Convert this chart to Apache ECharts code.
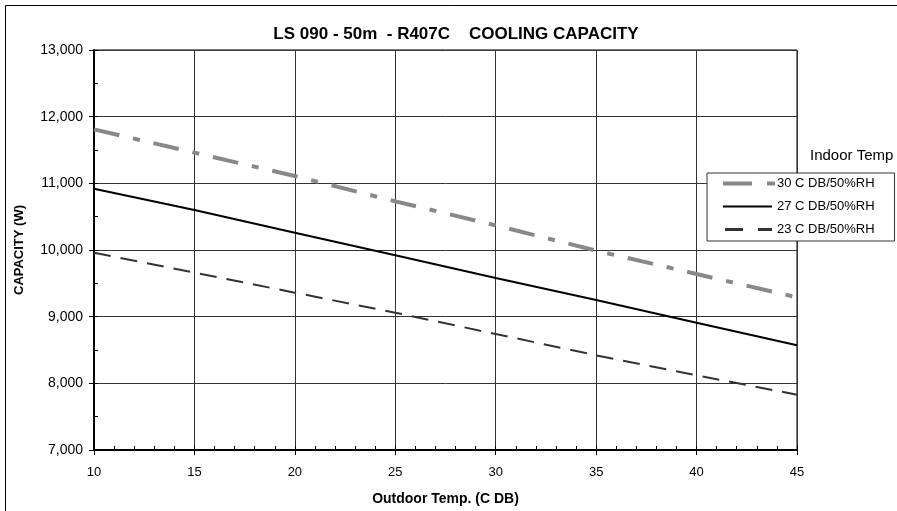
<!doctype html>
<html style="width: 100%; height: 100%"><head><meta charset="utf-8"></head>
<body style="width: 100%; height: 100%; margin: 0; background: #fff">
<div id="container" style="width: 897px; height: 511px"></div>
<script type="text/javascript" src="https://cdn.jsdelivr.net/npm/echarts@6/dist/echarts.min.js"></script>
<script type="text/javascript">
// outdoor temp (C DB)
var temps = [10, 15, 20, 25, 30, 35, 40, 45];
// capacity (W) per indoor condition
var cap30 = [11810, 11460, 11110, 10730, 10370, 9990, 9640, 9290];
var cap27 = [10920, 10600, 10260, 9920, 9580, 9250, 8910, 8570];
var cap23 = [9960, 9660, 9360, 9060, 8740, 8420, 8120, 7830];
var yTicks = [7000, 8000, 9000, 10000, 11000, 12000, 13000];

function pairs(vals) {
    return temps.map(function (t, i) { return [t, vals[i]]; });
}

var dom = document.getElementById("container");
var myChart = echarts.init(dom);
var font = 'Liberation Sans, Arial, sans-serif';

// legend icons drawn as dash patterns (box 0..52 x 0..8)
var icon30 = 'path://M0 0M52 8M0 2H29V6H0Z M44 2H52V6H44Z';
var icon27 = 'path://M0 0M52 8M0 3H49V5H0Z';
var icon23 = 'path://M0 0M52 8M2 2.5H20V5.5H2Z M35 2.5H49V5.5H35Z';

var option = {
    animation: false,
    textStyle: {fontFamily: font, color: '#000'},
    title: {
        text: 'LS 090 - 50m  - R407C    COOLING CAPACITY',
        left: 451, top: 21, textAlign: 'center',
        textStyle: {fontSize: 17, fontWeight: 'bold', color: '#000', fontFamily: font}
    },
    graphic: [
        {type: 'rect', shape: {x: 5.5, y: 5.5, width: 900, height: 510},
         style: {fill: 'none', stroke: '#000', lineWidth: 1}, z: -1},
        {type: 'text', left: 810, top: 148,
         style: {text: 'Indoor Temp', fontSize: 15, fontFamily: font, fill: '#000'}}
    ],
    legend: {
        orient: 'vertical',
        left: 707, top: 173,
        padding: [4, 20, 5, 16],
        itemGap: 10,
        itemWidth: 52, itemHeight: 8,
        backgroundColor: '#fff',
        borderColor: '#333', borderWidth: 1, borderRadius: 0,
        textStyle: {fontSize: 13, fontFamily: font, color: '#000', padding: [0, 0, 0, -3]},
        data: [
            {name: '30 C DB/50%RH', icon: icon30},
            {name: '27 C DB/50%RH', icon: icon27},
            {name: '23 C DB/50%RH', icon: icon23}
        ]
    },
    grid: {
        left: 94, right: 100, top: 50, bottom: 61,
        outerBoundsMode: 'none', containLabel: false,
        show: true, borderColor: '#000', borderWidth: 1, backgroundColor: '#fff'
    },
    xAxis: [
        {
            type: 'value', min: 10, max: 45, interval: 5,
            name: 'Outdoor Temp. (C DB)', nameLocation: 'middle', nameGap: 42,
            nameTextStyle: {fontSize: 14, fontWeight: 'bold', color: '#000', fontFamily: font},
            axisLine: {show: true, onZero: false, lineStyle: {color: '#000', width: 2}},
            axisTick: {show: true, inside: false, length: 5, lineStyle: {color: '#000'}},
            axisLabel: {fontSize: 13, color: '#000', margin: 16, fontFamily: font},
            splitLine: {show: true, lineStyle: {color: '#333', width: 1}}
        },
        {
            type: 'value', min: 10, max: 45, interval: 1, position: 'bottom',
            axisLine: {show: false},
            axisTick: {show: true, inside: true, length: 4, lineStyle: {color: '#000'}},
            axisLabel: {show: false},
            splitLine: {show: false}
        }
    ],
    yAxis: [
        {
            type: 'value', min: yTicks[0], max: yTicks[yTicks.length - 1], interval: 1000,
            name: 'CAPACITY (W)', nameLocation: 'middle', nameGap: 68, nameRotate: 90,
            nameTextStyle: {fontSize: 13, fontWeight: 'bold', color: '#000', fontFamily: font},
            axisLine: {show: true, onZero: false, lineStyle: {color: '#000', width: 2}},
            axisTick: {show: true, inside: false, length: 5, lineStyle: {color: '#000'}},
            axisLabel: {
                fontSize: 14, color: '#000', margin: 11, fontFamily: font,
                formatter: function (v) { return v.toLocaleString('en-US'); }
            },
            splitLine: {show: true, lineStyle: {color: '#333', width: 1}}
        },
        {
            type: 'value', min: 7000, max: 13000, interval: 500, position: 'left',
            axisLine: {show: false},
            axisTick: {show: true, inside: true, length: 4, lineStyle: {color: '#000'}},
            axisLabel: {show: false},
            splitLine: {show: false}
        }
    ],
    series: [
        {
            name: '30 C DB/50%RH', type: 'line', symbol: 'none', data: pairs(cap30),
            lineStyle: {color: '#888', width: 4, type: [26, 14, 7, 14], cap: 'butt'},
            itemStyle: {color: '#888'}, z: 3
        },
        {
            name: '27 C DB/50%RH', type: 'line', symbol: 'none', data: pairs(cap27),
            lineStyle: {color: '#000', width: 2, type: 'solid'},
            itemStyle: {color: '#000'}, z: 3
        },
        {
            name: '23 C DB/50%RH', type: 'line', symbol: 'none', data: pairs(cap23),
            lineStyle: {color: '#333', width: 2, type: [17, 10]},
            itemStyle: {color: '#333'}, z: 3
        }
    ]
};

myChart.setOption(option);
</script>
</body></html>
